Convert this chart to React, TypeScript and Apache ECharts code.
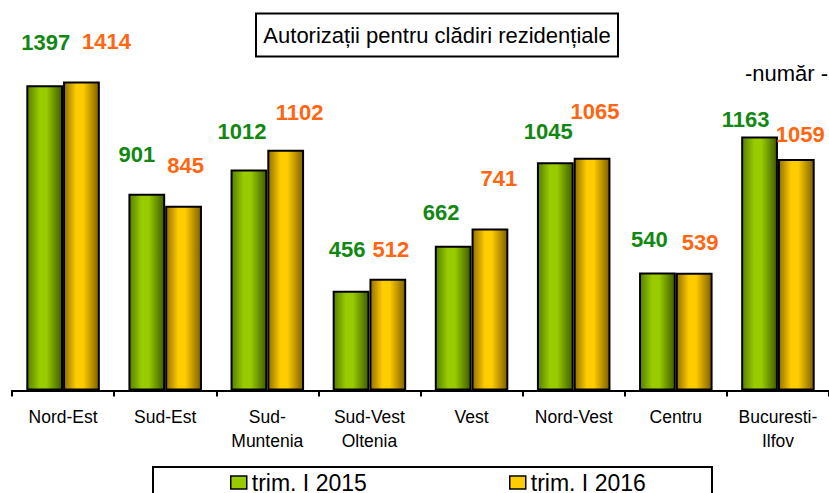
import React, { useEffect, useRef } from 'react';
import * as echarts from 'echarts';

const categories = [
  'Nord-Est',
  'Sud-Est',
  'Sud-\nMuntenia',
  'Sud-Vest\nOltenia',
  'Vest',
  'Nord-Vest',
  'Centru',
  'Bucuresti-\nIlfov',
];
const values2015 = [1397, 901, 1012, 456, 662, 1045, 540, 1163];
const values2016 = [1414, 845, 1102, 512, 741, 1065, 539, 1059];
const seriesNames = ['trim. I 2015', 'trim. I 2016'];
const titleText = 'Autorizații pentru clădiri rezidențiale';
const unitText = '-număr -';

// label placement tweaks: [horizontal shift, rise above bar top] in px
const labelShift2015 = [[1, 43], [-10, 39], [-7, 38], [-4, 41], [-12, 33], [-7, 31], [-8, 33], [-14, 17]];
const labelShift2016 = [[25, 40], [2, 40], [14, 37], [3, 29], [9, 50], [3, 46], [6, 30], [4, 25]];

const FONT = 'Liberation Sans, Arial, sans-serif';

const greenGrad = {
  type: 'linear', x: 0, y: 0, x2: 1, y2: 0,
  colorStops: [
    { offset: 0, color: '#557f00' },
    { offset: 0.35, color: '#99cc00' },
    { offset: 0.55, color: '#99cc00' },
    { offset: 1, color: '#3f5c00' },
  ],
};
const yellowGrad = {
  type: 'linear', x: 0, y: 0, x2: 1, y2: 0,
  colorStops: [
    { offset: 0, color: '#937000' },
    { offset: 0.35, color: '#ffcc00' },
    { offset: 0.55, color: '#ffcc00' },
    { offset: 1, color: '#7f6000' },
  ],
};

function buildData(values: number[], shifts: number[][], color: string) {
  return values.map((v, i) => ({
    value: v,
    label: {
      offset: [shifts[i][0], -(shifts[i][1] - 11)],
      color,
    },
  }));
}

export default function App() {
  const ref = useRef<HTMLDivElement>(null);
  useEffect(() => {
    if (!ref.current) return;
    const chart = echarts.init(ref.current, undefined, { renderer: 'svg' });
    const labelBase = {
      show: true,
      position: 'top',
      distance: 0,
      fontSize: 22,
      fontWeight: 'bold',
      fontFamily: FONT,
    };
    chart.setOption({
      animation: false,
      backgroundColor: '#ffffff',
      grid: { left: 12, right: -4.6, top: 40.9, bottom: 102.5, containLabel: false },
      xAxis: {
        type: 'category',
        data: categories,
        axisLine: { show: true, lineStyle: { color: '#000', width: 2 } },
        axisTick: { show: true, length: 6, lineStyle: { color: '#000', width: 2 } },
        axisLabel: {
          interval: 0,
          margin: 14,
          color: '#000',
          fontSize: 17.5,
          lineHeight: 24,
          fontFamily: FONT,
        },
      },
      yAxis: { type: 'value', show: false, min: 0, max: 1600, splitLine: { show: false } },
      legend: [
        {
          data: [seriesNames[0]],
          left: 225, top: 466,
          icon: 'rect', itemWidth: 16, itemHeight: 13,
          itemStyle: { color: '#99cc00', borderColor: '#000', borderWidth: 1.5 },
          textStyle: { fontSize: 23, color: '#000', fontFamily: FONT },
        },
        {
          data: [seriesNames[1]],
          left: 504, top: 466,
          icon: 'rect', itemWidth: 16, itemHeight: 13,
          itemStyle: { color: '#ffcc00', borderColor: '#000', borderWidth: 1.5 },
          textStyle: { fontSize: 23, color: '#000', fontFamily: FONT },
        },
      ],
      series: [
        {
          name: seriesNames[0],
          type: 'bar',
          barGap: '0%',
          barCategoryGap: '28%',
          itemStyle: { color: greenGrad, borderColor: '#000', borderWidth: 2 },
          label: labelBase,
          data: buildData(values2015, labelShift2015, '#118811'),
        },
        {
          name: seriesNames[1],
          type: 'bar',
          barGap: '0%',
          barCategoryGap: '28%',
          itemStyle: { color: yellowGrad, borderColor: '#000', borderWidth: 2 },
          label: labelBase,
          data: buildData(values2016, labelShift2016, '#ff6611'),
        },
      ],
      graphic: [
        {
          type: 'rect',
          shape: { x: 256, y: 13.5, width: 362, height: 43 },
          style: { fill: '#fff', stroke: '#000', lineWidth: 2 },
        },
        {
          type: 'text',
          x: 437, y: 35,
          style: {
            text: titleText, fill: '#000', fontSize: 22, fontFamily: FONT,
            textAlign: 'center', textVerticalAlign: 'middle',
          },
        },
        {
          type: 'text',
          x: 745, y: 73,
          style: {
            text: unitText, fill: '#000', fontSize: 22, fontFamily: FONT,
            textAlign: 'left', textVerticalAlign: 'middle',
          },
        },
        {
          type: 'rect',
          shape: { x: 153, y: 467, width: 559, height: 60 },
          style: { fill: 'none', stroke: '#000', lineWidth: 2 },
          z: -1,
        },
      ],
    });
    return () => chart.dispose();
  }, []);
  return (
    <div
      ref={ref}
      style={{ position: 'absolute', left: 0, top: 0, width: 829, height: 493 }}
    />
  );
}
